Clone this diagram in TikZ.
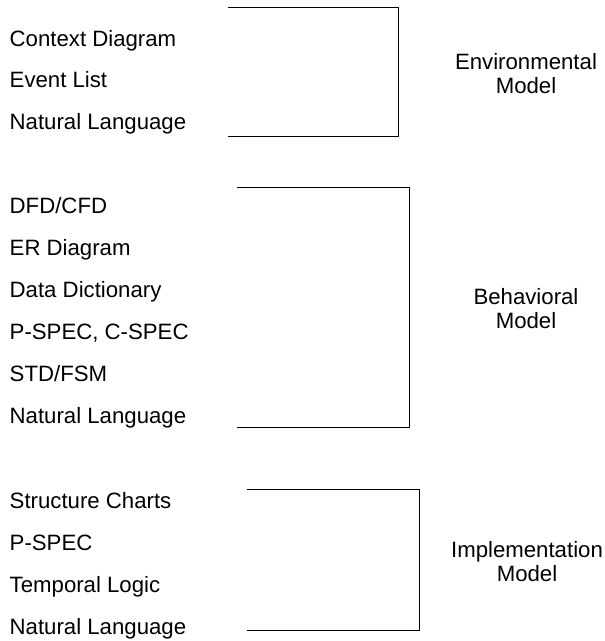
\documentclass[tikz,border=0pt]{standalone}
\usepackage{fontspec}
\setmainfont{Liberation Sans}
\begin{document}
\begin{tikzpicture}[x=1pt,y=-1pt,
  item/.style={anchor=base west,inner sep=0pt,font=\fontsize{22.2}{24}\selectfont},
  modellabel/.style={anchor=center,align=center,inner sep=0pt,font=\fontsize{22.2}{24}\selectfont},
  bracketline/.style={draw=black,line width=1pt}]
\useasboundingbox (0,0) rectangle (605,641);
% Environmental
\node[item] (c1) at (9.5,46) {Context Diagram};
\node[item] (e1) at (9.5,87.5) {Event List};
\node[item] (n1) at (9.5,129) {Natural Language};
\coordinate (b1tl) at (228,7);
\coordinate (b1tr) at (398,7);
\coordinate (b1br) at (398,136);
\coordinate (b1bl) at (228,136);
\draw[bracketline] (b1tl) -- (b1tr) -- (b1br) -- (b1bl);
\node[modellabel] (m1) at (526,74) {Environmental\\Model};
% Behavioral
\node[item] (d2) at (9.5,213) {DFD/CFD};
\node[item] (er2) at (9.5,255) {ER Diagram};
\node[item] (dd2) at (9.5,297) {Data Dictionary};
\node[item] (ps2) at (9.5,339) {P-SPEC, C-SPEC};
\node[item] (st2) at (9.5,381) {STD/FSM};
\node[item] (n2) at (9.5,423) {Natural Language};
\coordinate (b2tl) at (237,187);
\coordinate (b2tr) at (409,187);
\coordinate (b2br) at (409,427);
\coordinate (b2bl) at (237,427);
\draw[bracketline] (b2tl) -- (b2tr) -- (b2br) -- (b2bl);
\node[modellabel] (m2) at (526,309) {Behavioral\\Model};
% Implementation
\node[item] (s3) at (9.5,508) {Structure Charts};
\node[item] (p3) at (9.5,550) {P-SPEC};
\node[item] (t3) at (9.5,592) {Temporal Logic};
\node[item] (n3) at (9.5,634) {Natural Language};
\coordinate (b3tl) at (247,489);
\coordinate (b3tr) at (419,489);
\coordinate (b3br) at (419,630);
\coordinate (b3bl) at (247,630);
\draw[bracketline] (b3tl) -- (b3tr) -- (b3br) -- (b3bl);
\node[modellabel] (m3) at (527,562) {Implementation\\Model};
\end{tikzpicture}
\end{document}
